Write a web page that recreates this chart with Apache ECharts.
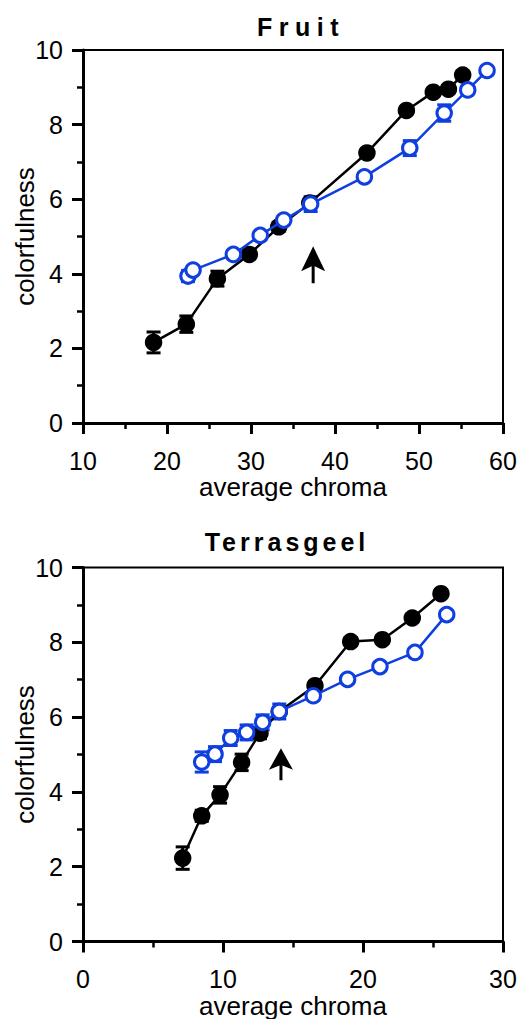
<!DOCTYPE html>
<html>
<head>
<meta charset="utf-8">
<script src="https://cdn.jsdelivr.net/npm/echarts@6/dist/echarts.min.js"></script>
<style>
html,body{margin:0;padding:0;background:#fff;}
#chart{width:531px;height:1019px;}
</style>
</head>
<body>
<div id="chart"></div>
<script>
// ---- data ----
const fruitTitle = 'Fruit';
const terraTitle = 'Terrasgeel';
const xName = 'average chroma';
const yName = 'colorfulness';

const fruitBlackX = [18.4, 22.3, 26.0, 29.8, 33.3, 37.0, 43.8, 48.5, 51.7, 53.5, 55.2];
const fruitBlackY = [2.16, 2.65, 3.87, 4.52, 5.26, 5.90, 7.24, 8.38, 8.87, 8.95, 9.33];
const fruitBlackErr = [0.28, 0.22, 0.2, 0.1, 0.12, 0.1, 0.1, 0.1, 0.1, 0.1, 0.1];
const fruitBlueX = [22.5, 23.1, 27.9, 31.1, 33.9, 37.1, 43.5, 48.9, 53.0, 55.8, 58.1];
const fruitBlueY = [3.94, 4.10, 4.52, 5.03, 5.44, 5.87, 6.60, 7.37, 8.31, 8.93, 9.45];
const fruitBlueErr = [0.15, 0.1, 0.1, 0.1, 0.1, 0.2, 0.1, 0.2, 0.22, 0.1, 0.1];
const fruitArrow = [37.4, 4.24];

const terraBlackX = [7.12, 8.48, 9.79, 11.33, 12.64, 14.02, 16.57, 19.12, 21.38, 23.52, 25.57];
const terraBlackY = [2.23, 3.36, 3.92, 4.79, 5.57, 6.15, 6.84, 8.02, 8.07, 8.65, 9.30];
const terraBlackErr = [0.3, 0.15, 0.22, 0.22, 0.15, 0.1, 0.1, 0.1, 0.1, 0.1, 0.1];
const terraBlueX = [8.48, 9.43, 10.55, 11.69, 12.83, 14.02, 16.45, 18.9, 21.21, 23.71, 25.98];
const terraBlueY = [4.80, 5.01, 5.44, 5.59, 5.86, 6.15, 6.57, 7.01, 7.35, 7.73, 8.74];
const terraBlueErr = [0.27, 0.2, 0.2, 0.2, 0.2, 0.2, 0.1, 0.1, 0.1, 0.1, 0.1];
const terraArrow = [14.14, 4.74];

const fruitXTicks = {min: 10, max: 60, interval: 10};
const terraXTicks = {min: 0, max: 30, interval: 10};
const yTicks = {min: 0, max: 10, interval: 2};

// ---- styles ----
const FONT = 'Liberation Sans';
const BLUE = '#0f3fe0';
const FS = 25;
const NAME_FS = 26;

function pairs(xs, ys) { return xs.map((v, i) => [v, ys[i]]); }
function triples(xs, ys, es) { return xs.map((v, i) => [v, ys[i], es[i]]); }

function errSeries(idx, xs, ys, es, color) {
  return {
    type: 'custom', xAxisIndex: idx, yAxisIndex: idx, z: 1, silent: true,
    data: triples(xs, ys, es),
    renderItem: function (params, api) {
      const x = api.value(0), y = api.value(1), e = api.value(2);
      const t = api.coord([x, y + e]);
      const b = api.coord([x, y - e]);
      const hw = 7;
      const st = {stroke: color, lineWidth: 3};
      return {type: 'group', children: [
        {type: 'line', shape: {x1: t[0], y1: t[1], x2: b[0], y2: b[1]}, style: st},
        {type: 'line', shape: {x1: t[0] - hw, y1: t[1], x2: t[0] + hw, y2: t[1]}, style: st},
        {type: 'line', shape: {x1: b[0] - hw, y1: b[1], x2: b[0] + hw, y2: b[1]}, style: st}
      ]};
    }
  };
}
function blackSeries(idx, xs, ys) {
  return {
    type: 'line', xAxisIndex: idx, yAxisIndex: idx, z: 2,
    data: pairs(xs, ys), symbol: 'circle', symbolSize: 17.5, showSymbol: true,
    itemStyle: {color: '#000', opacity: 1}, lineStyle: {color: '#000', width: 2.5}
  };
}
function blueSeries(idx, xs, ys) {
  return {
    type: 'line', xAxisIndex: idx, yAxisIndex: idx, z: 3,
    data: pairs(xs, ys), symbol: 'circle', symbolSize: 14.5, showSymbol: true,
    itemStyle: {color: '#fff', borderColor: BLUE, borderWidth: 3, opacity: 1},
    lineStyle: {color: BLUE, width: 2.5}
  };
}
const arrowPath = 'path://M12 0 L24 25 L13.5 20 L13.5 37 L10.5 37 L10.5 20 L0 25 Z';
function arrowSeries(idx, pt, size) {
  return {
    type: 'scatter', xAxisIndex: idx, yAxisIndex: idx, z: 4, silent: true,
    data: [pt], symbol: arrowPath, symbolSize: size,
    itemStyle: {color: '#000', opacity: 1}
  };
}

function xAxis(idx, t) {
  return {
    type: 'value', gridIndex: idx, min: t.min, max: t.max, interval: t.interval,
    name: xName, nameLocation: 'middle', nameGap: 51, nameMoveOverlap: false,
    nameTextStyle: {fontFamily: FONT, fontSize: NAME_FS, color: '#000'},
    axisLine: {show: true, onZero: false, lineStyle: {color: '#000', width: 3}},
    axisTick: {show: true, inside: false, length: 11, lineStyle: {color: '#000', width: 3}},
    minorTick: {show: true, splitNumber: 2, length: 6, lineStyle: {color: '#000', width: 2.5}},
    splitLine: {show: false}, minorSplitLine: {show: false},
    axisLabel: {fontFamily: FONT, fontSize: FS, color: '#000', margin: 25}
  };
}
function yAxis(idx) {
  return {
    type: 'value', gridIndex: idx, min: yTicks.min, max: yTicks.max, interval: yTicks.interval,
    name: yName, nameLocation: 'middle', nameGap: 45, nameRotate: 90, nameMoveOverlap: false,
    nameTextStyle: {fontFamily: FONT, fontSize: NAME_FS, color: '#000'},
    axisLine: {show: true, onZero: false, lineStyle: {color: '#000', width: 3}},
    axisTick: {show: true, inside: false, length: 11, lineStyle: {color: '#000', width: 3}},
    minorTick: {show: true, splitNumber: 2, length: 6, lineStyle: {color: '#000', width: 2.5}},
    splitLine: {show: false}, minorSplitLine: {show: false},
    axisLabel: {fontFamily: FONT, fontSize: FS, color: '#000', margin: 20}
  };
}

const chart = echarts.init(document.getElementById('chart'), null, {renderer: 'svg'});
chart.setOption({
  animation: false,
  backgroundColor: '#fff',
  title: [
    {text: fruitTitle, left: 296, top: 9, textAlign: 'center',
     textStyle: {fontFamily: FONT, fontSize: FS, fontWeight: 'bold', color: '#000'}},
    {text: terraTitle, left: 282, top: 524, textAlign: 'center',
     textStyle: {fontFamily: FONT, fontSize: FS, fontWeight: 'bold', color: '#000'}}
  ],
  grid: [
    {left: 83, top: 50, width: 420, height: 373, outerBoundsMode: 'none', containLabel: false,
     show: true, borderColor: '#000', borderWidth: 2, backgroundColor: 'transparent'},
    {left: 83, top: 567.5, width: 420, height: 374, outerBoundsMode: 'none', containLabel: false,
     show: true, borderColor: '#000', borderWidth: 2, backgroundColor: 'transparent'}
  ],
  xAxis: [xAxis(0, fruitXTicks), xAxis(1, terraXTicks)],
  yAxis: [yAxis(0), yAxis(1)],
  series: [
    errSeries(0, fruitBlackX, fruitBlackY, fruitBlackErr, '#000'),
    errSeries(0, fruitBlueX, fruitBlueY, fruitBlueErr, BLUE),
    blackSeries(0, fruitBlackX, fruitBlackY),
    blueSeries(0, fruitBlueX, fruitBlueY),
    arrowSeries(0, fruitArrow, [24, 37]),
    errSeries(1, terraBlackX, terraBlackY, terraBlackErr, '#000'),
    errSeries(1, terraBlueX, terraBlueY, terraBlueErr, BLUE),
    blackSeries(1, terraBlackX, terraBlackY),
    blueSeries(1, terraBlueX, terraBlueY),
    arrowSeries(1, terraArrow, [24, 32])
  ]
});

// letter-spaced titles
const spacing = {};
spacing[fruitTitle] = 6.5;
spacing[terraTitle] = 4;
document.querySelectorAll('#chart svg text').forEach(function (el) {
  const s = spacing[el.textContent];
  if (s !== undefined) el.style.letterSpacing = s + 'px';
});
</script>
</body>
</html>
